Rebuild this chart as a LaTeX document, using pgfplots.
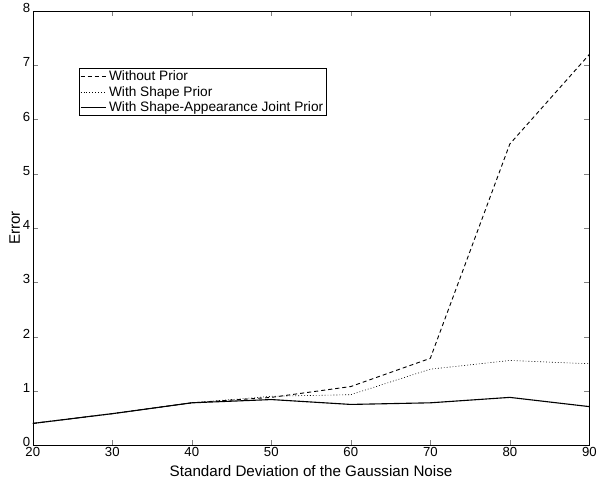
\documentclass[border=0pt]{standalone}
\usepackage{fontspec}
\setmainfont{Liberation Sans}
\usepackage{pgfplots}
\pgfplotsset{compat=1.18}
\begin{document}
\begin{tikzpicture}
\begin{axis}[
  name=main,
  scale only axis,
  width=550pt, height=429pt,
  xmin=20, xmax=90, ymin=0, ymax=8,
  xtick={20,30,...,90}, ytick={0,1,...,8},
  tick align=inside,
  tick pos=both,
  major tick length=5pt,
  /pgf/number format/assume math mode=true,
  tick label style={font=\fontsize{13}{15}\selectfont},
  xticklabel style={yshift=1pt},
  yticklabel style={xshift=1pt, yshift=3pt},
  label style={font=\fontsize{15}{17}\selectfont},
  xlabel={Standard Deviation of the Gaussian Noise},
  ylabel={Error},
  xlabel style={yshift=-2pt},
  ylabel style={yshift=-4pt},
  legend style={at={(axis cs:25.85,6.95)}, anchor=north west, draw=black, font=\fontsize{13.5}{14}\selectfont, inner sep=0.5pt, row sep=0pt, legend cell align=left},
  legend image code/.code={\draw[#1] (0cm,0cm) -- (0.9cm,0cm);},
  every axis plot/.append style={line width=0.9pt},
]
\addplot[black, dashed, dash pattern=on 4pt off 3pt] coordinates {(20,0.4) (30,0.58) (40,0.78) (50,0.88) (60,1.08) (70,1.6) (80,5.55) (90,7.2)};
\addlegendentry{Without Prior}
\addplot[black, dotted, line width=0.6pt] coordinates {(20,0.4) (30,0.58) (40,0.78) (50,0.9) (60,0.93) (70,1.4) (80,1.56) (90,1.5)};
\addlegendentry{With Shape Prior}
\addplot[black, solid, line width=1.1pt] coordinates {(20,0.4) (30,0.58) (40,0.78) (50,0.84) (60,0.75) (70,0.78) (80,0.88) (90,0.71)};
\addlegendentry{With Shape-Appearance Joint Prior}
\end{axis}
\path ([xshift=-6pt,yshift=-4pt]main.outer south west) -- ([yshift=-4pt]main.outer south east);
\end{tikzpicture}
\end{document}
